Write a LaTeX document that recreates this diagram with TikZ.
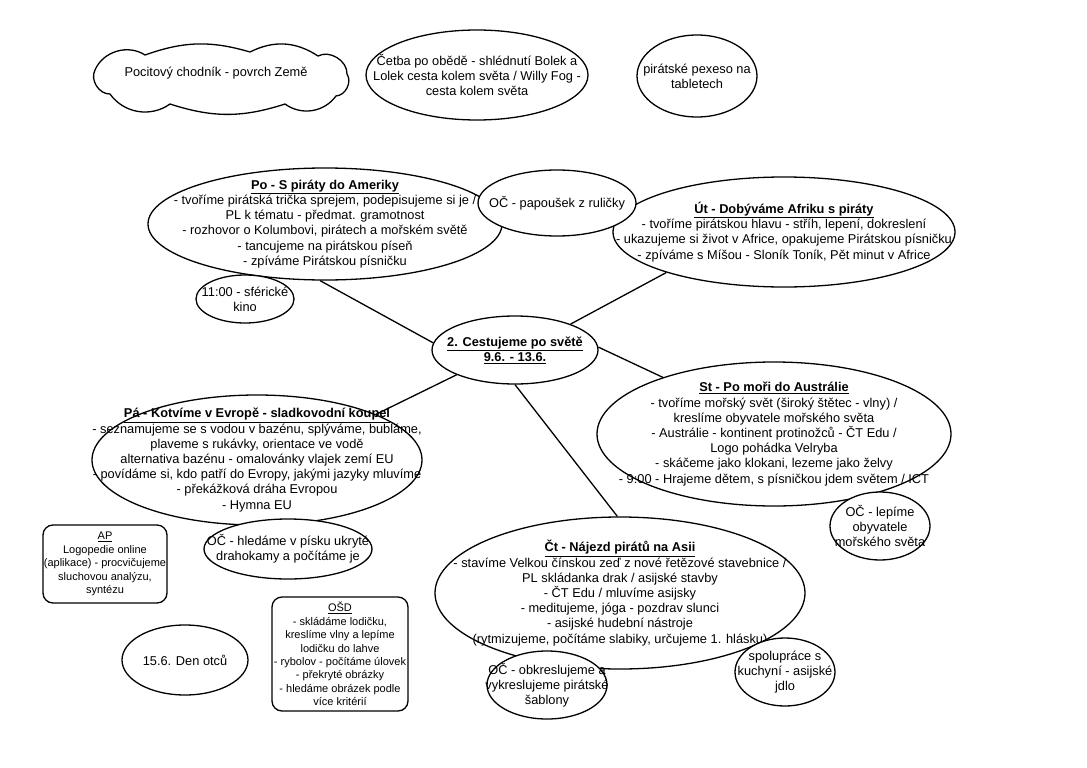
\documentclass[tikz,border=0pt]{standalone}
\usepackage{fontspec}
\setmainfont{Liberation Sans}
\usetikzlibrary{shapes.geometric}
\begin{document}
\begin{tikzpicture}[x=1pt,y=-1pt,
  every node/.style={align=center},
  ell/.style={ellipse, draw, fill=white, line width=1.3pt, inner sep=-150pt,
    font=\fontsize{12.8}{15.2}\selectfont},
  plain/.style={inner sep=0pt, font=\fontsize{12.8}{15.2}\selectfont},
  outline/.style={draw, fill=white, line width=1.3pt, line join=round},
  rbox/.style={rectangle, rounded corners=10pt, draw, fill=white, line width=1.3pt,
    inner sep=0pt, font=\fontsize{11}{13.4}\selectfont},
  link/.style={line width=1.3pt},
]
\fill[white] (0,0) rectangle (1087,768);
\useasboundingbox (0,0) rectangle (1087,768);

% top row: cloud outline and its text
\path[outline] (95,70) to[bend left=50] (145,55) to[bend left=18] (250,52)
  to[bend left=30] (318,56) to[bend left=60] (347,74) to[bend left=60] (336,96)
  to[bend left=45] (285,104) to[bend left=18] (170,104) to[bend left=45] (110,94)
  to[bend left=60] (95,70) -- cycle;
\node[plain] (cloud) at (216,73) {Pocitový chodník - povrch Země};
\node[ell, minimum width=222pt, minimum height=90pt] (cetba) at (477,75)
  {Četba po obědě - shlédnutí Bolek a\\Lolek cesta kolem světa / Willy Fog -\\cesta kolem světa};
\node[ell, minimum width=120pt, minimum height=82pt] (pexeso) at (697,76)
  {pirátské pexeso na\\tabletech};

% main ellipses
\node[ell, minimum width=354pt, minimum height=112pt] (po) at (325,224)
  {\textbf{\underline{Po - S piráty do Ameriky}}\\
   - tvoříme pirátská trička sprejem, podepisujeme si je /\\
   PL k tématu - předmat. gramotnost\\
   - rozhovor o Kolumbovi, pirátech a mořském světě\\
   - tancujeme na pirátskou píseň\\
   - zpíváme Pirátskou písničku};
\node[ell, minimum width=342pt, minimum height=110pt] (ut) at (784,232)
  {\textbf{\underline{Út - Dobýváme Afriku s piráty}}\\
   - tvoříme pirátskou hlavu - stříh, lepení, dokreslení\\
   - ukazujeme si život v Africe, opakujeme Pirátskou písničku\\
   - zpíváme s Míšou - Sloník Toník, Pět minut v Africe};
\node[ell, minimum width=166pt, minimum height=68pt] (c) at (515,350)
  {\textbf{\underline{2. Cestujeme po světě}}\\\textbf{\underline{9.6. - 13.6.}}};
\node[ell, minimum width=354pt, minimum height=144pt] (st) at (774,434)
  {\textbf{\underline{St - Po moři do Austrálie}}\\
   - tvoříme mořský svět (široký štětec - vlny) /\\
   kreslíme obyvatele mořského světa\\
   - Austrálie - kontinent protinožců - ČT Edu /\\
   Logo pohádka Velryba\\
   - skáčeme jako klokani, lezeme jako želvy\\
   - 9:00 - Hrajeme dětem, s písničkou jdem světem / ICT};
\node[ell, minimum width=330pt, minimum height=130pt] (pa) at (257,460)
  {\textbf{\underline{Pá - Kotvíme v Evropě - sladkovodní koupel}}\\
   - seznamujeme se s vodou v bazénu, splýváme, bubláme,\\
   plaveme s rukávky, orientace ve vodě\\
   alternativa bazénu - omalovánky vlajek zemí EU\\
   - povídáme si, kdo patří do Evropy, jakými jazyky mluvíme\\
   - překážková dráha Evropou\\
   - Hymna EU};
\node[ell, minimum width=370pt, minimum height=152pt] (ct) at (620,593)
  {\textbf{\underline{Čt - Nájezd pirátů na Asii}}\\
   - stavíme Velkou čínskou zeď z nové řetězové stavebnice /\\
   PL skládanka drak / asijské stavby\\
   - ČT Edu / mluvíme asijsky\\
   - meditujeme, jóga - pozdrav slunci\\
   - asijské hudební nástroje\\
   (rytmizujeme, počítáme slabiky, určujeme 1. hlásku)};

% connectors
\draw[link] (c.175) -- (po.265);
\draw[link] (c.25) -- (ut.199);
\draw[link] (c.2) -- (st.153);
\draw[link] (c.203) -- (pa.21);
\draw[link] (c.270) -- (ct.92);

% small satellites
\node[ell, minimum width=98pt, minimum height=48pt] (kino) at (245,299)
  {11:00 - sférické\\kino};
\node[ell, minimum width=158pt, minimum height=66pt] (papousek) at (557,203)
  {OČ - papoušek z ruličky};
\node[ell, minimum width=100pt, minimum height=68pt] (lepime) at (880,526)
  {OČ - lepíme\\obyvatele\\mořského světa};
\node[ell, minimum width=168pt, minimum height=60pt] (hledame) at (288,549)
  {OČ - hledáme v písku ukryté\\drahokamy a počítáme je};
\node[ell, minimum width=120pt, minimum height=68pt] (obkres) at (547,685)
  {OČ - obkreslujeme a\\vykreslujeme pirátské\\šablony};
\node[ell, minimum width=100pt, minimum height=68pt] (spolu) at (785,672)
  {spolupráce s\\kuchyní - asijské\\jdlo};

% bottom-left
\node[rbox, minimum width=124pt, minimum height=78pt] (ap) at (105,564)
  {\underline{AP}\\Logopedie online\\(aplikace) - procvičujeme\\sluchovou analýzu,\\syntézu};
\node[ell, minimum width=126pt, minimum height=70pt] (den) at (185,660)
  {15.6. Den otců};
\node[rbox, minimum width=136pt, minimum height=114pt] (osd) at (340,654)
  {\underline{OŠD}\\- skládáme lodičku,\\kreslíme vlny a lepíme\\lodičku do lahve\\- rybolov - počítáme úlovek\\- překryté obrázky\\- hledáme obrázek podle\\více kritérií};
\end{tikzpicture}
\end{document}
